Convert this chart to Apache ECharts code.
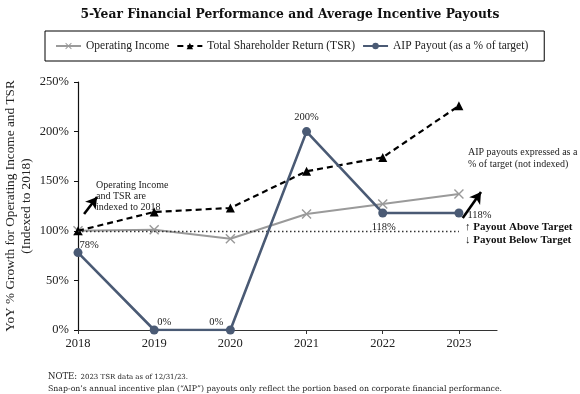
<!DOCTYPE html>
<html><head><meta charset="utf-8">
<script src="https://cdn.jsdelivr.net/npm/echarts@6/dist/echarts.min.js"></script>
<style>html,body{margin:0;padding:0;background:#fff}#c{width:580px;height:394px}</style>
</head><body><div id="c"></div>
<script>
const years = [2018, 2019, 2020, 2021, 2022, 2023];
const yTicks = [0, 50, 100, 150, 200, 250];
const operatingIncome = [100, 101, 92, 117, 127, 137];
const tsr = [100, 119, 123, 160, 174, 226];
const aipPayout = [78, 0, 0, 200, 118, 118];
const aipLabelPos = ['tl78', 'tr', 'tl', 'top', 'bottom', 'right'];

const FONT = 'Liberation Serif';
const chart = echarts.init(document.getElementById('c'));

function pair(arr){ return years.map((y,i)=>[y, arr[i]]); }

const xSym = 'path://M1 0L5 4L9 0L10 1L6 5L10 9L9 10L5 6L1 10L0 9L4 5L0 1Z';

const aipData = years.map((y,i)=>{
  const p = aipLabelPos[i];
  let label;
  if (p==='tl78') label = {position:'right', offset:[-7,-7]};
  else if (p==='tr') label = {position:'top', offset:[10,6]};
  else if (p==='tl') label = {position:'top', offset:[-14,6]};
  else if (p==='top') label = {position:'top'};
  else if (p==='bottom') label = {position:'bottom', offset:[1,0]};
  else label = {position:'right', offset:[0,2]};
  return {value:[y, aipPayout[i]], label};
});

chart.setOption({
  animation:false,
  textStyle:{fontFamily:FONT, color:'#222'},
  title:{
    text:'5-Year Financial Performance and Average Incentive Payouts',
    left:'center', top:4,
    textStyle:{fontFamily:'DejaVu Serif', fontSize:12.3, fontWeight:'bold', color:'#111'}
  },
  legend:{
    left:45, top:31, width:500,
    padding:[9,16,9,10],
    borderColor:'#000', borderWidth:1,
    itemWidth:25, itemHeight:8, itemGap:7,
    textStyle:{fontFamily:FONT, fontSize:11.5, color:'#222'},
    data:['Operating Income','Total Shareholder Return (TSR)','AIP Payout (as a % of target)']
  },
  grid:{left:78, right:83, top:82, bottom:64, outerBoundsMode:'none', containLabel:false},
  xAxis:{
    type:'value', min:2018, max:2023.5, interval:1,
    splitLine:{show:false},
    axisLine:{lineStyle:{color:'#333', width:1.2}},
    axisTick:{show:true, length:4, customValues:years, lineStyle:{color:'#333'}},
    axisLabel:{customValues:years, fontFamily:FONT, fontSize:12.5, color:'#222', margin:7,
      formatter:v=>String(v)}
  },
  yAxis:{
    type:'value', min:0, max:250, interval:50,
    splitLine:{show:false},
    axisLine:{show:true, lineStyle:{color:'#111', width:1.2}},
    axisTick:{show:true, length:4, lineStyle:{color:'#111'}},
    axisLabel:{fontFamily:FONT, fontSize:12.5, color:'#222', margin:9, formatter:v=>v+'%'},
    name:'YoY % Growth for Operating Income and TSR\n(Indexed to 2018)',
    nameLocation:'middle', nameRotate:90, nameGap:43, nameMoveOverlap:false,
    nameTextStyle:{fontFamily:FONT, fontSize:13.3, color:'#222', lineHeight:16}
  },
  series:[
    {
      name:'Operating Income', type:'line', data:pair(operatingIncome),
      symbol:xSym, symbolSize:10,
      lineStyle:{color:'#9a9a9a', width:2},
      itemStyle:{color:'#9a9a9a'}, z:3
    },
    {
      name:'Total Shareholder Return (TSR)', type:'line', data:pair(tsr),
      symbol:'triangle', symbolSize:9,
      lineStyle:{color:'#000', width:2.2, type:[6,4]},
      itemStyle:{color:'#000'}, z:4
    },
    {
      name:'AIP Payout (as a % of target)', type:'line', data:aipData,
      symbol:'circle', symbolSize:9,
      lineStyle:{color:'#4a5a74', width:2.6},
      itemStyle:{color:'#4a5a74'}, z:5,
      label:{show:true, formatter:p=>p.value[1]+'%', fontFamily:FONT, fontSize:10.5, color:'#222', distance:4}
    },
    {
      name:'ref', type:'line', data:[], silent:true,
      markLine:{
        silent:true, symbol:['none','none'], label:{show:false},
        lineStyle:{color:'#333', width:1.3, type:[1.5,2.5]},
        data:[[{coord:[2018,100]},{coord:[2023,100]}]]
      }
    },
    {
      name:'arrows', type:'line', data:[], silent:true,
      markLine:{
        silent:true, symbol:['none','arrow'], symbolSize:[10,11], label:{show:false},
        lineStyle:{color:'#000', width:2.6, type:'solid', curveness:-0.2},
        data:[
          [{coord:[2018.08,117]},{coord:[2018.25,134]}],
          [{coord:[2023.05,113]},{coord:[2023.29,139]}]
        ]
      }
    }
  ],
  graphic:[
    {type:'text', left:96, top:180, style:{text:'Operating Income\nand TSR are\nindexed to 2018', font:'10px "Liberation Serif"', fill:'#222', lineHeight:11}},
    {type:'text', left:468, top:146, style:{text:'AIP payouts expressed as a\n% of target (not indexed)', font:'10px "Liberation Serif"', fill:'#222', lineHeight:12}},
    {type:'text', left:465, top:221, style:{text:'↑ Payout Above Target\n↓ Payout Below Target', font:'bold 11px "Liberation Serif"', fill:'#111', lineHeight:13}},
    {type:'text', left:48, top:371, style:{text:'{a|NOTE:} {b|2023 TSR data as of 12/31/23.}', rich:{a:{font:'8.5px "DejaVu Serif"', fill:'#222'}, b:{font:'7px "DejaVu Serif"', fill:'#222'}}}},
    {type:'text', left:48, top:385, style:{text:'Snap-on\u2019s annual incentive plan (\u201cAIP\u201d) payouts only reflect the portion based on corporate financial performance.', font:'7.8px "DejaVu Serif"', fill:'#222'}}
  ]
});
</script></body></html>
